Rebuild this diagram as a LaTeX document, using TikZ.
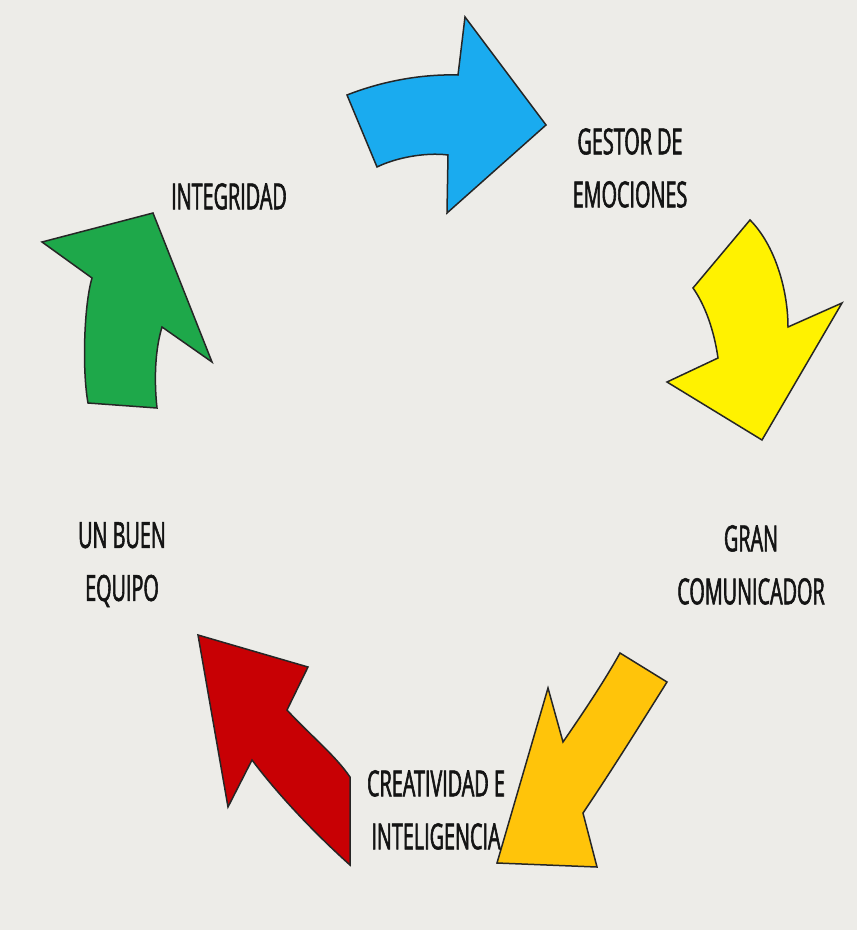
\documentclass[tikz,border=0pt]{standalone}
\usepackage{fontspec}
\setmainfont[FakeStretch=0.55,FakeBold=1.6]{Open Sans}
\definecolor{paper}{HTML}{EDECE8}
\definecolor{skyblue}{HTML}{1AABEF}
\definecolor{lemon}{HTML}{FFF200}
\definecolor{leaf}{HTML}{1EA84A}
\definecolor{crimson}{HTML}{C80004}
\definecolor{amber}{HTML}{FFC40A}
\begin{document}
\begin{tikzpicture}[x=1pt,y=-1pt,
    arrowpiece/.style={draw=black!85, line width=1.5pt, line join=miter},
    word/.style={anchor=north, inner sep=0pt, align=center, text=black!92,
                 font=\fontsize{36}{53}\selectfont}]
                % Background (Paper)
                \fill[paper] (0,0) rectangle (857,930);

                % Top arrow (Blue)
                \filldraw[arrowpiece, fill=skyblue] (347,95) .. controls (385,80) and (425,74) .. (458,75)
                    -- (465,17) -- (546,125) -- (447,213) -- (448,155)
                    .. controls (425,152) and (395,158) .. (377,167) -- cycle;

                % Right arrow (Yellow)
                \filldraw[arrowpiece, fill=lemon] (750,220) .. controls (775,245) and (788,290) .. (788,327)
                    -- (842,303) -- (762,440) -- (667,382) -- (718,358)
                    .. controls (714,330) and (705,305) .. (693,288) -- cycle;

                % Lower right arrow (Orange)
                \filldraw[arrowpiece, fill=amber] (620,653) -- (667,682)
                    .. controls (640,725) and (612,770) .. (583,813)
                    -- (597,867) -- (497,863) -- (548,688) -- (563,742)
                    .. controls (585,710) and (605,680) .. (620,653) -- cycle;

                % Lower left arrow (Red)
                \filldraw[arrowpiece, fill=crimson] (198,635) -- (308,667) -- (287,710)
                    .. controls (310,735) and (335,755) .. (350,777) -- (350,865)
                    .. controls (322,840) and (282,800) .. (252,760) -- (228,807) -- cycle;

                % Left arrow (Green)
                \filldraw[arrowpiece, fill=leaf] (42,242) -- (153,213) -- (212,362) -- (162,327)
                    .. controls (155,350) and (154,380) .. (157,408) -- (88,403)
                    .. controls (82,370) and (84,305) .. (92,278) -- cycle;

                % Labels
                \node[word] (gestor) at (630,128) {GESTOR DE\\EMOCIONES};
                \node[word] (comunicador) at (751,525) {GRAN\\COMUNICADOR};
                \node[word] (creatividad) at (436,770) {CREATIVIDAD E\\INTELIGENCIA};
                \node[word] (equipo) at (122,522) {UN BUEN\\EQUIPO};
                \node[word] (integridad) at (229,183) {INTEGRIDAD};
            \end{tikzpicture}
\end{document}
